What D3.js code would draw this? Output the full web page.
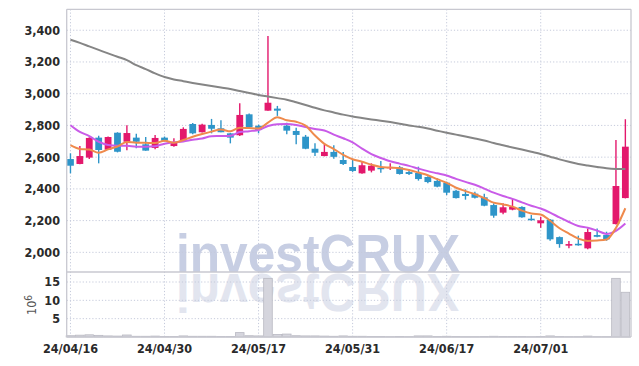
<!DOCTYPE html>
<html>
<head>
<meta charset="utf-8">
<script src="https://d3js.org/d3.v7.min.js"></script>
<style>
  body { margin: 0; background: #fff; }
  .grid { stroke: #c5cadb; stroke-width: 1; stroke-dasharray: 1.2,2; }
  .frame { stroke: #c8c8d0; stroke-width: 1.3; }
  .tickLabel { font-family: "DejaVu Sans Condensed", "DejaVu Sans", sans-serif; font-size: 12.5px; font-weight: bold; fill: #2a2a2a; }
</style>
</head>
<body>
<div id="chart"></div>
<script>
// trading days, 24/04/16 .. 24/07/12
var dates = ["24/04/16","24/04/17","24/04/18","24/04/19","24/04/22","24/04/23","24/04/24","24/04/25","24/04/26","24/04/29",
             "24/04/30","24/05/02","24/05/03","24/05/07","24/05/08","24/05/09","24/05/10","24/05/13","24/05/14","24/05/16",
             "24/05/17","24/05/20","24/05/21","24/05/22","24/05/23","24/05/24","24/05/27","24/05/28","24/05/29","24/05/30",
             "24/05/31","24/06/03","24/06/04","24/06/05","24/06/07","24/06/10","24/06/11","24/06/12","24/06/13","24/06/14",
             "24/06/17","24/06/18","24/06/19","24/06/20","24/06/21","24/06/24","24/06/25","24/06/26","24/06/27","24/06/28",
             "24/07/01","24/07/02","24/07/03","24/07/04","24/07/05","24/07/08","24/07/09","24/07/10","24/07/11","24/07/12"];

var opens  = [2588,2557,2597,2723,2647,2754,2697,2723,2681,2658, 2723,2670,2704,2809,2757,2803,2782,2750,2738,2870,
              2798,2893,2906,2798,2765,2729,2653,2607,2633,2582, 2538,2498,2515,2532,2534,2536,2506,2500,2475,2450,
              2439,2388,2368,2370,2347,2298,2250,2269,2286,2212, 2183,2206,2096,2042,2054,2025,2109,2109,2178,2342];
var highs  = [2624,2670,2725,2735,2730,2757,2801,2747,2727,2740, 2730,2719,2788,2815,2810,2841,2832,2753,2940,2875,
              2805,3364,2923,2817,2786,2740,2687,2681,2675,2633, 2582,2569,2561,2576,2561,2545,2523,2540,2480,2467,
              2445,2395,2397,2382,2370,2309,2309,2336,2290,2235, 2225,2210,2100,2071,2105,2151,2151,2130,2708,2839];
var lows   = [2498,2555,2588,2561,2645,2630,2643,2656,2640,2650, 2700,2665,2700,2745,2755,2750,2757,2687,2733,2785,
              2750,2893,2860,2744,2681,2650,2607,2605,2590,2550, 2507,2496,2504,2502,2519,2490,2487,2452,2435,2410,
              2361,2340,2332,2340,2290,2218,2240,2265,2218,2200, 2155,2073,2029,2025,2042,2020,2095,2073,2175,2340];
var closes = [2546,2607,2721,2645,2727,2634,2752,2697,2641,2721, 2704,2694,2778,2750,2805,2779,2757,2723,2866,2788,
              2771,2943,2893,2767,2740,2653,2628,2633,2602,2557, 2513,2549,2546,2525,2538,2494,2494,2462,2443,2414,
              2376,2342,2355,2344,2294,2231,2284,2286,2221,2202, 2202,2082,2052,2052,2044,2128,2098,2082,2418,2666];

// volume, millions of shares
var volumes = [0.35,0.5,0.6,0.45,0.3,0.25,0.55,0.2,0.2,0.25, 0.15,0.15,0.3,0.2,0.2,0.2,0.15,0.15,1.2,0.35,
               0.3,16.0,0.7,0.8,0.35,0.3,0.3,0.25,0.2,0.3, 0.2,0.2,0.15,0.15,0.1,0.15,0.1,0.3,0.3,0.15,
               0.2,0.15,0.1,0.1,0.15,0.2,0.15,0.15,0.15,0.1, 0.15,0.3,0.15,0.1,0.1,0.25,0.1,0.1,16.0,12.2];

// moving average lines
var ma5   = [2676,2652,2648,2628,2649,2667,2696,2691,2690,2689, 2703,2691,2708,2729,2746,2761,2774,2763,2786,2783,
             2781,2818,2852,2832,2823,2799,2736,2684,2651,2615, 2587,2571,2553,2538,2534,2530,2519,2503,2486,2461,
             2438,2407,2386,2366,2342,2313,2302,2288,2263,2245, 2239,2199,2152,2118,2086,2072,2075,2081,2154,2278];
var ma10  = [2801,2759,2733,2697,2677,2672,2672,2666,2666,2669, 2685,2694,2699,2710,2718,2732,2733,2735,2758,2764,
             2771,2796,2808,2809,2803,2790,2777,2768,2742,2719, 2693,2654,2619,2595,2574,2559,2545,2528,2512,2498,
             2484,2463,2444,2426,2402,2376,2355,2337,2315,2294, 2276,2250,2220,2191,2166,2155,2137,2116,2136,2182];
var maLong = [3340,3320,3298,3276,3254,3233,3212,3180,3155,3128, 3105,3090,3079,3068,3058,3048,3039,3030,3017,3005,
              2992,2982,2972,2962,2946,2929,2911,2895,2882,2868, 2856,2847,2838,2830,2821,2811,2800,2791,2780,2767,
              2754,2742,2730,2717,2705,2689,2675,2661,2648,2634, 2620,2603,2586,2571,2557,2547,2538,2530,2526,2525];

var priceTicks = [2000,2200,2400,2600,2800,3000,3200,3400];
var volTicks = [5,10,15];
var dateTicks = [0,10,20,30,40,50];

var svgW = 639, svgH = 366;
var plotLeft = 66.7, plotRight = 631, plotTop = 9.3, plotSplit = 272, plotBottom = 337;

var svg = d3.select("#chart").append("svg")
    .attr("width", svgW)
    .attr("height", svgH);

var x = d3.scaleLinear().domain([-0.4, dates.length - 0.4]).range([plotLeft, plotRight]);
var y = d3.scaleLinear().domain([1876, 3532]).range([plotSplit, plotTop]);
var yv = d3.scaleLinear().domain([0, 17.73]).range([plotBottom, plotSplit]);

// watermark with its reflection
var wm = svg.append("g");
wm.append("text")
    .attr("x", 176).attr("y", 271.5)
    .attr("textLength", 284).attr("lengthAdjust", "spacingAndGlyphs")
    .style("font-family", "Liberation Sans, Arial, sans-serif")
    .style("font-weight", "bold").style("font-size", "53px")
    .style("fill", "#c7cee3")
    .text("investCRUX");
wm.append("text")
    .attr("transform", "translate(0," + (271.5 * 2 + 2) + ") scale(1,-1)")
    .attr("x", 176).attr("y", 271.5)
    .attr("textLength", 284).attr("lengthAdjust", "spacingAndGlyphs")
    .style("font-family", "Liberation Sans, Arial, sans-serif")
    .style("font-weight", "bold").style("font-size", "53px")
    .style("fill", "#e2e5ef")
    .text("investCRUX");

// gridlines
svg.selectAll(".pgrid").data(priceTicks).enter().append("line")
    .attr("class", "grid")
    .attr("x1", plotLeft).attr("x2", plotRight)
    .attr("y1", function(d) { return y(d); }).attr("y2", function(d) { return y(d); });
svg.selectAll(".vgrid").data(volTicks).enter().append("line")
    .attr("class", "grid")
    .attr("x1", plotLeft).attr("x2", plotRight)
    .attr("y1", function(d) { return yv(d); }).attr("y2", function(d) { return yv(d); });
svg.selectAll(".xgrid").data(dateTicks).enter().append("line")
    .attr("class", "grid")
    .attr("y1", plotTop).attr("y2", plotBottom)
    .attr("x1", function(d) { return x(d); }).attr("x2", function(d) { return x(d); });

// volume bars
svg.selectAll(".vol").data(volumes).enter().append("rect")
    .attr("x", function(d, i) { return x(i) - 4.3; })
    .attr("width", 8.6)
    .attr("y", function(d) { return yv(d); })
    .attr("height", function(d) { return plotBottom - yv(d); })
    .attr("fill", "#d5d5dd")
    .attr("stroke", "#b9b9c2")
    .attr("stroke-width", 0.8);

// candles
var up = "#e3186c", down = "#2e95c9";
var candles = svg.selectAll(".candle").data(dates).enter().append("g");
candles.append("line")
    .attr("x1", function(d, i) { return x(i); }).attr("x2", function(d, i) { return x(i); })
    .attr("y1", function(d, i) { return y(highs[i]); })
    .attr("y2", function(d, i) { return y(lows[i]); })
    .attr("stroke", function(d, i) { return closes[i] >= opens[i] ? up : down; })
    .attr("stroke-width", 1.4);
candles.append("rect")
    .attr("x", function(d, i) { return x(i) - 3.4; })
    .attr("width", 6.8)
    .attr("y", function(d, i) { return y(Math.max(opens[i], closes[i])); })
    .attr("height", function(d, i) { return Math.max(1.3, Math.abs(y(opens[i]) - y(closes[i]))); })
    .attr("fill", function(d, i) { return closes[i] >= opens[i] ? up : down; });

// moving averages
var line = d3.line()
    .x(function(d, i) { return x(i); })
    .y(function(d) { return y(d); })
    .curve(d3.curveMonotoneX);
svg.append("path").attr("d", line(maLong))
    .attr("fill", "none").attr("stroke", "#858585").attr("stroke-width", 2);
svg.append("path").attr("d", line(ma10))
    .attr("fill", "none").attr("stroke", "#c95be8").attr("stroke-width", 2);
svg.append("path").attr("d", line(ma5))
    .attr("fill", "none").attr("stroke", "#ef8a4c").attr("stroke-width", 2);

// frame
svg.append("line").attr("class", "frame").attr("x1", plotLeft).attr("x2", plotRight).attr("y1", plotTop).attr("y2", plotTop);
svg.append("line").attr("class", "frame").attr("x1", plotLeft).attr("x2", plotRight).attr("y1", plotSplit).attr("y2", plotSplit);
svg.append("line").attr("class", "frame").attr("x1", plotLeft).attr("x2", plotRight).attr("y1", plotBottom).attr("y2", plotBottom);
svg.append("line").attr("class", "frame").attr("x1", plotLeft).attr("x2", plotLeft).attr("y1", plotTop).attr("y2", plotBottom);
svg.append("line").attr("class", "frame").attr("x1", plotRight).attr("x2", plotRight).attr("y1", plotTop).attr("y2", plotBottom);

// axis labels
var fmt = d3.format(",");
svg.selectAll(".plab").data(priceTicks).enter().append("text")
    .attr("class", "tickLabel")
    .attr("x", 60).attr("y", function(d) { return y(d); })
    .attr("dy", "0.35em").attr("text-anchor", "end")
    .text(function(d) { return fmt(d); });
svg.selectAll(".vlab").data(volTicks).enter().append("text")
    .attr("class", "tickLabel")
    .attr("x", 60).attr("y", function(d) { return yv(d); })
    .attr("dy", "0.35em").attr("text-anchor", "end")
    .text(function(d) { return d; });
svg.selectAll(".xlab").data(dateTicks).enter().append("text")
    .attr("class", "tickLabel")
    .attr("x", function(d) { return x(d); }).attr("y", 353)
    .attr("text-anchor", "middle")
    .text(function(d) { return dates[d]; });

var unit = svg.append("text")
    .attr("class", "tickLabel")
    .attr("transform", "translate(36,305) rotate(-90)")
    .attr("text-anchor", "middle")
    .style("font-weight", "normal")
    .style("fill", "#555");
unit.append("tspan").text("10");
unit.append("tspan").attr("dy", "-0.45em").style("font-size", "10px").text("6");
</script>
</body>
</html>
